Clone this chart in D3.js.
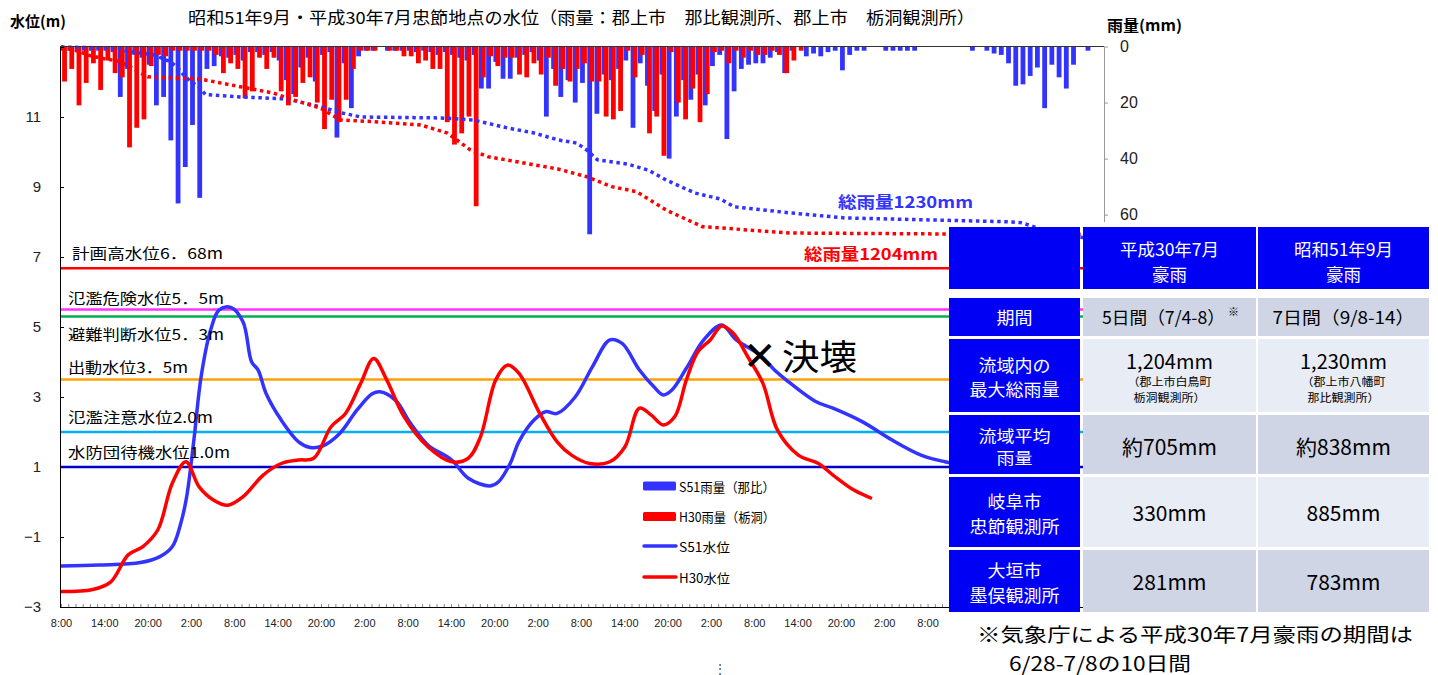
<!DOCTYPE html>
<html><head><meta charset="utf-8">
<script src="https://cdn.jsdelivr.net/npm/d3@7"></script>
<style>
body{margin:0;background:#fff;}
svg{display:block;font-family:"Noto Sans CJK JP","Noto Sans",sans-serif;}
</style></head><body>
<svg id="c" width="1438" height="675"></svg>
<script>
// ---------- DATA ----------
// hourly rainfall (mm), hour index 0 = 8:00 day 1
const rainS51 = [1.5,1.5,1.5,1.5,1.5,1.5,1.5,2,18,8,3,4,6.5,21,18,33.5,56,43,28,54,
 8,7,3.5,4,3,5,2,2,3,2,5,12,17,7.5,4,12.5,3,2,32.5,6,
 22,3.5,1.5,1.5,0,1.5,1.5,1.5,1.5,2,1.5,2,3,2,3,4,5,3,15,15,
 5.5,11.5,11.5,4,3,2,5,25,8,18,12,20,13,67,24,10,12,8,5,29,
 6,14,23,10,40,25,12,19,10,21,7,3,33,16,8,6.5,6,6,4,2,
 9.5,1.5,0,3.5,2.5,3.5,2,1.5,8.5,3,1.5,1.5,0,0,1.5,1.5,1.5,1.5,1.5,0,
 0,0,0,0,0,0,1.5,0,1.5,2.5,3,6,14,13.5,10.5,7.5,22,6.5,11,15,
 6.5,0,1.5];
const rainH30 = [12.5,8,21,13,6,15.5,5,9.5,11,36,29,26,7,3,3.5,1.5,1.5,1.5,1.5,1.5,
 1.5,3,9.5,6,8,18.5,16,4,8,4,16,21,18,13,11,20,29.5,19,27,19,
 8,1.5,1.5,1.5,0,1.5,1.5,3.5,3.5,6,5,8,8,27,35,31,25,57,11,3.5,
 7,4,4,10,11,6,10,4,14,8,12.5,8,6,12.5,12.5,25,26,23,1.5,11,
 3,31,25,39,2,20,26,15,27,17,2,1.5,6,1.5,4,1.5,3,3,1.5,3,
 9.5,5,1.5];

// water level (m) : hours from 8:00 day 1 / level
const levelS51Hours = [0,5.2,11,13.7,15.4,16.6,17.4,18.4,19.4,20.7,21.9,23.5,25.2,26.4,27.3,28.4,30.5,32.9,34.5,36.2,
 38.6,41,43.1,44.2,46.3,48.4,50.8,54.1,56.4,59.4,60.6,62.2,63.4,65.5,67.1,68.7,71.2,73.6,76,77.7,
 80.1,82.1,83.4,84.6,86.6,89,91.5,93.5,96.8,98.8,100.4,104.5,106.9,111,115.1,119.1,122.4,125];
const levelS51 = [-1.83,-1.8,-1.73,-1.56,-1.28,-0.6,0.15,1.77,3.58,4.9,5.49,5.56,5.15,4.0,3.77,3.1,2.34,1.72,1.56,1.6,
 1.96,2.63,3.09,3.15,2.91,2.25,1.63,1.2,0.68,0.46,0.58,1.1,1.72,2.34,2.58,2.53,3.0,3.87,4.63,4.53,
 3.77,3.29,3.06,3.2,3.82,4.63,5.06,4.63,4.2,3.77,3.49,2.87,2.68,2.29,1.77,1.34,1.15,1.05];
const levelH30Hours = [0,4.4,6.9,9.3,11.3,13.4,15.4,17.3,19.1,21.1,23.1,25.2,28,30.5,32.9,35,37.4,39.4,41.5,43.3,
 45.1,47.5,50.8,54.1,56.4,58.1,60.2,61.8,63.4,66.3,68.7,70.7,73.2,76,78.1,80.1,81.7,83.4,85,86.6,
 88.2,89.9,91.5,93.1,95.1,97.2,99.2,102.1,104.9,106.9,109.8,112.3];
const levelH30 = [-2.56,-2.5,-2.28,-1.51,-1.28,-0.8,0.53,1.15,0.44,0.06,-0.09,0.15,0.77,1.1,1.2,1.25,2.15,2.53,3.39,4.1,
 3.49,2.44,1.58,1.15,1.25,1.87,3.49,3.91,3.68,2.53,1.72,1.34,1.1,1.15,1.58,2.68,2.49,2.2,2.44,3.49,
 4.29,4.63,5.03,4.82,4.15,3.39,2.06,1.34,1.1,0.77,0.34,0.1];

// cumulative rainfall (mm)
const cumS51Hours = [0,8,9,12,13,14,15,16,17,18,19,20,24.8,31.3,35.9,38.7,41.5,52.6,57.1,61.9,
 65.5,68.9,71.4,72.8,74.3,78.4,81.3,83.8,87.8,91.3,93.2,101.1,108.6,120.9,130.8,132.9,134.4,136.5,139.3,142.7,144];
const cumS51 = [0,8,26,45,52,73,91,125,181,224,252,306,321,334,384,422,450,456,469,521,
 553,598,617,662,726,752,791,855,939,977,1027,1067,1099,1112,1123,1129,1150,1185,1215,1230,1230];
const cumH30Hours = [0,2,4,6,8,10,11,12,19.3,24.8,29.4,32.2,35.9,38.7,43.3,49.8,53.5,56.7,59.1,68.8,
 72.8,76.3,79.7,83.8,88.8,101.1,122.9,144];
const cumH30 = [0,21,55,76,91,137,166,192,206,255,296,341,392,469,480,501,553,662,705,784,
 834,898,930,1048,1155,1196,1202,1204];

const xTickLabels = ["8:00","14:00","20:00","2:00"];
const levelTicks = [-3,-1,1,3,5,7,9,11];
const rainTicks = [0,20,40,60];
const refLevels = [6.68,5.5,5.3,3.5,2.0,1.0];
const refLabels = ["計画高水位6．68m","氾濫危険水位5．5m","避難判断水位5．3m","出動水位3．5m","氾濫注意水位2.0m","水防団待機水位1.0m"];
const totalLabels = ["総雨量1230mm","総雨量1204mm"];
const legendLabels = ["S51雨量（那比）","H30雨量（栃洞）","S51水位","H30水位"];

const tableHeaders = [["平成30年7月","豪雨"],["昭和51年9月","豪雨"]];
const tableRowLabels = [["期間"],["流域内の","最大総雨量"],["流域平均","雨量"],["岐阜市","忠節観測所"],["大垣市","墨俣観測所"]];
const tableH30 = ["5日間（7/4-8）","1,204mm","約705mm","330mm","281mm"];
const tableS51 = ["7日間（9/8-14）","1,230mm","約838mm","885mm","783mm"];
const tableH30Note = ["（郡上市白鳥町","栃洞観測所）"];
const tableS51Note = ["（郡上市八幡町","那比観測所）"];
const footnote = ["※気象庁による平成30年7月豪雨の期間は","6/28-7/8の10日間"];

// ---------- DRAW ----------
const svg = d3.select("#c");
const BLUE = "#3333ff", RED = "#ff0000";
const x = d3.scaleLinear().domain([0,144.5]).range([61,1104.5]);
const yL = d3.scaleLinear().domain([-3,13]).range([607,47]);
const yR = d3.scaleLinear().domain([0,200]).range([46.5,607]);
const yC = d3.scaleLinear().domain([0,3600]).range([47,607]);

// titles
svg.append("text").attr("x",10).attr("y",27).attr("font-size",15).attr("font-weight","bold").text("水位(m)");
svg.append("text").attr("x",188).attr("y",24).attr("font-size",16.5)
  .attr("textLength",787).attr("lengthAdjust","spacingAndGlyphs")
  .text("昭和51年9月・平成30年7月忠節地点の水位（雨量：郡上市　那比観測所、郡上市　栃洞観測所）");
svg.append("text").attr("x",1107).attr("y",31).attr("font-size",15).attr("font-weight","bold")
  .attr("textLength",75).attr("lengthAdjust","spacingAndGlyphs").text("雨量(mm)");

// rain bars
const bw = 4.8;
svg.append("g").selectAll("rect").data(rainS51).join("rect")
  .attr("x",(d,i)=>x(i+0.21)-bw/2).attr("y",yR(0)).attr("width",bw)
  .attr("height",d=>yR(d)-yR(0)).attr("fill",BLUE);
svg.append("g").selectAll("rect").data(rainH30).join("rect")
  .attr("x",(d,i)=>x(i+0.49)-bw/2).attr("y",yR(0)).attr("width",bw)
  .attr("height",d=>yR(d)-yR(0)).attr("fill",RED);

// cumulative dotted
const cumLine = d3.line().x(d=>x(d[0])).y(d=>yC(d[1]));
svg.append("path").attr("d",cumLine(cumS51Hours.map((h,i)=>[h,cumS51[i]])))
  .attr("fill","none").attr("stroke",BLUE).attr("stroke-width",3.5).attr("stroke-dasharray","3.5 3.6");
svg.append("path").attr("d",cumLine(cumH30Hours.map((h,i)=>[h,cumH30[i]])))
  .attr("fill","none").attr("stroke",RED).attr("stroke-width",3.5).attr("stroke-dasharray","3.5 3.6");

// axes
const gL = svg.append("g").attr("transform","translate(60,0)")
  .call(d3.axisLeft(yL).tickValues(levelTicks).tickSize(-4).tickPadding(19));
gL.select(".domain").attr("stroke","#000");
gL.selectAll("text").attr("font-size",15).attr("font-family","Liberation Sans, Arial, sans-serif").attr("fill","#222");

const yRshown = yR.copy().domain([0,62.5]).range([yR(0),yR(62.5)]);
const gR = svg.append("g").attr("transform","translate(1104,0)")
  .call(d3.axisRight(yRshown).tickValues(rainTicks).tickSize(4).tickSizeOuter(0).tickPadding(12));
gR.select(".domain").attr("stroke","#999");
gR.selectAll("line").attr("stroke","#999");
gR.selectAll("text").attr("font-size",16).attr("font-family","Liberation Sans, Arial, sans-serif").attr("fill","#222");

svg.append("line").attr("x1",60).attr("x2",1104).attr("y1",46.5).attr("y2",46.5).attr("stroke","#333").attr("stroke-width",1.2);

const gB = svg.append("g").attr("transform","translate(0,607)")
  .call(d3.axisBottom(x).tickValues(d3.range(0,145,1)).tickSize(-3).tickFormat(""));
gB.select(".domain").attr("stroke","#000");
gB.selectAll("line").attr("stroke","#888");
const gB2 = svg.append("g").attr("transform","translate(0,607)")
  .call(d3.axisBottom(x).tickValues(d3.range(0,121,6)).tickSize(0).tickPadding(12)
    .tickFormat((d,i)=>xTickLabels[i%4]));
gB2.select(".domain").remove();
gB2.selectAll("text").attr("font-size",11).attr("font-family","Liberation Sans Narrow, Liberation Sans, Arial, sans-serif").attr("fill","#222");

// reference lines
const refColors = ["#ff0000","#ff33ff","#00b050","#ffa000","#00b0f0","#0000cc"];
const refLabelDy = [-9,-6,23,-7,-9,-9];
const refLabelW = [151,156,156,120,145,162];
svg.append("g").selectAll("line").data(refLevels).join("line")
  .attr("x1",61).attr("x2",1104).attr("y1",d=>yL(d)).attr("y2",d=>yL(d))
  .attr("stroke",(d,i)=>refColors[i]).attr("stroke-width",2.5);

// water level lines
const lvLine = d3.line().x(d=>x(d[0])).y(d=>yL(d[1])).curve(d3.curveCatmullRom.alpha(0.5));
svg.append("path").attr("d",lvLine(levelS51Hours.map((h,i)=>[h,levelS51[i]])))
  .attr("fill","none").attr("stroke",BLUE).attr("stroke-width",3.5).attr("stroke-linejoin","round");
svg.append("path").attr("d",lvLine(levelH30Hours.map((h,i)=>[h,levelH30[i]])))
  .attr("fill","none").attr("stroke",RED).attr("stroke-width",3.5).attr("stroke-linejoin","round");

svg.append("g").selectAll("text").data(refLabels).join("text")
  .attr("x",(d,i)=>i===0?72:68).attr("y",(d,i)=>yL(refLevels[i])+refLabelDy[i])
  .attr("font-size",15).attr("fill","#000")
  .attr("textLength",(d,i)=>refLabelW[i]).attr("lengthAdjust","spacingAndGlyphs")
  .text(d=>d);

// total labels
svg.append("text").attr("x",838).attr("y",208).attr("font-size",16).attr("font-weight","bold")
  .attr("fill",BLUE).attr("textLength",135).attr("lengthAdjust","spacingAndGlyphs").text(totalLabels[0]);
svg.append("text").attr("x",804).attr("y",260).attr("font-size",16).attr("font-weight","bold")
  .attr("fill",RED).attr("textLength",134).attr("lengthAdjust","spacingAndGlyphs").text(totalLabels[1]);

// 決壊
svg.append("text").attr("x",760).attr("y",353).attr("text-anchor","middle").attr("dominant-baseline","central")
  .attr("font-size",40).attr("font-weight","300").attr("font-family","Noto Sans CJK JP, sans-serif").text("✕");
svg.append("text").attr("x",782).attr("y",354).attr("dominant-baseline","central")
  .attr("font-size",35).attr("textLength",75).attr("lengthAdjust","spacingAndGlyphs").text("決壊");

// legend
const lg = svg.append("g");
const legY = [486,516.5,546,577];
lg.append("rect").attr("x",643).attr("y",legY[0]-4.5).attr("width",33).attr("height",9).attr("fill",BLUE).attr("rx",1.5);
lg.append("rect").attr("x",643).attr("y",legY[1]-4.5).attr("width",33).attr("height",9).attr("fill",RED).attr("rx",1.5);
lg.append("line").attr("x1",644).attr("x2",676).attr("y1",legY[2]).attr("y2",legY[2]).attr("stroke",BLUE).attr("stroke-width",3.5).attr("stroke-linecap","round");
lg.append("line").attr("x1",644).attr("x2",676).attr("y1",legY[3]).attr("y2",legY[3]).attr("stroke",RED).attr("stroke-width",3.5).attr("stroke-linecap","round");
lg.selectAll("text").data(legendLabels).join("text")
  .attr("x",679).attr("y",(d,i)=>legY[i]).attr("dominant-baseline","central").attr("font-size",13)
  .attr("textLength",(d,i)=>i<2?96:51).attr("lengthAdjust","spacingAndGlyphs").text(d=>d);

// table
const colX = [949,1083,1258], colW = [131,173,171];
const rowY = [227,298,339,415,477,550], rowH = [62,38,73,59,70,62];
const HB = "#0000f5", C1 = "#cfd5e4", C2 = "#e8ecf4";
const tb = svg.append("g");
rowY.forEach((ry,r)=>{
  colX.forEach((cx,c)=>{
    let fill = (r===0||c===0)?HB:((r%2===1)?C1:C2);
    tb.append("rect").attr("x",cx).attr("y",ry).attr("width",colW[c]).attr("height",rowH[r]).attr("fill",fill);
  });
});
const ctr = c=>colX[c]+colW[c]/2;
tableHeaders.forEach((lines,j)=>{
  lines.forEach((t,k)=>tb.append("text").attr("x",ctr(j+1)).attr("y",248+k*25.5)
    .attr("text-anchor","middle").attr("dominant-baseline","central").attr("font-size",17.5).attr("fill","#fff").text(t));
});
tableRowLabels.forEach((lines,r)=>{
  const cy = rowY[r+1]+rowH[r+1]/2;
  const gap = r===2?22:24.5;
  const fs = r===2?15.5:17;
  lines.forEach((t,k)=>tb.append("text").attr("x",ctr(0)).attr("y",cy+(k-(lines.length-1)/2)*gap+ (r===0?-1:1))
    .attr("text-anchor","middle").attr("dominant-baseline","central").attr("font-size",fs)
    .attr("textLength",t.length*18).attr("lengthAdjust","spacingAndGlyphs").attr("fill","#fff").text(t));
});
[tableH30,tableS51].forEach((vals,j)=>{
  vals.forEach((t,r)=>{
    const cy = rowY[r+1]+rowH[r+1]/2;
    let y = cy, fs = 21, xx = ctr(j+1);
    let el = tb.append("text");
    if(r===0){fs=17.5; y=cy-1; if(j===0) xx=ctr(1)-6; el.attr("textLength",j===0?123:142).attr("lengthAdjust","spacingAndGlyphs");}
    if(r===1){fs=20; y=360;}
    if(r===2){y=446;}
    el.attr("x",xx).attr("y",y).attr("text-anchor","middle").attr("dominant-baseline","central")
      .attr("font-size",fs).attr("fill","#000").text(t);
  });
});
tb.append("text").attr("x",1228).attr("y",311).attr("font-size",11).attr("dominant-baseline","central").text("※");
[tableH30Note,tableS51Note].forEach((lines,j)=>{
  lines.forEach((t,k)=>tb.append("text").attr("x",ctr(j+1)).attr("y",381+k*16)
    .attr("text-anchor","middle").attr("dominant-baseline","central").attr("font-size",11).attr("fill","#000")
    .attr("textLength",t.length*12).attr("lengthAdjust","spacingAndGlyphs").text(t));
});

// footnote
svg.append("text").attr("x",977).attr("y",633).attr("dominant-baseline","central").attr("font-size",19.5)
  .attr("textLength",436).attr("lengthAdjust","spacingAndGlyphs").text(footnote[0]);
svg.append("text").attr("x",1009).attr("y",662).attr("dominant-baseline","central").attr("font-size",19.5)
  .attr("textLength",182).attr("lengthAdjust","spacingAndGlyphs").text(footnote[1]);
svg.append("text").attr("x",720).attr("y",667).attr("text-anchor","middle").attr("dominant-baseline","central")
  .attr("font-size",12).attr("fill","#444").text("⋮");
</script>
</body></html>
